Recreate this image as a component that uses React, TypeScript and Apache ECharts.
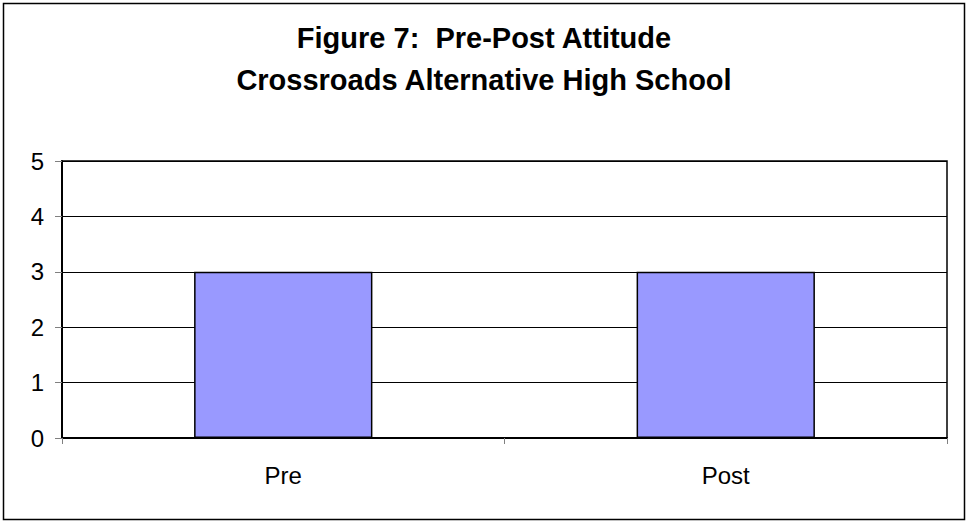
import React, { useEffect, useRef } from "react";
import * as echarts from "echarts";

const titleLines = ["Figure 7:  Pre-Post Attitude", "Crossroads Alternative High School"];
const categories = ["Pre", "Post"];
const values = [3, 3];
const yTicks = { min: 0, max: 5, interval: 1 };

export default function App() {
  const ref = useRef<HTMLDivElement>(null);
  useEffect(() => {
    if (!ref.current) return;
    const chart = echarts.init(ref.current, null, { renderer: "svg" });
    chart.setOption({
      animation: false,
      backgroundColor: "#ffffff",
      textStyle: { fontFamily: "Liberation Sans, Arial, sans-serif" },
      title: {
        text: titleLines.join("\n"),
        left: "center",
        top: 12,
        textStyle: {
          fontFamily: "Liberation Sans, Arial, sans-serif",
          fontSize: 29,
          fontWeight: "bold",
          color: "#000",
          lineHeight: 42,
        },
      },
      graphic: [
        {
          type: "rect",
          shape: { x: 3.5, y: 3.5, width: 961, height: 516 },
          style: { fill: "none", stroke: "#000", lineWidth: 1.5 },
          silent: true,
        },
      ],
      grid: {
        left: 62,
        top: 161,
        width: 885,
        height: 277,
        show: true,
        borderColor: "#000",
        borderWidth: 1.5,
        containLabel: false,
      },
      xAxis: {
        type: "category",
        data: categories,
        boundaryGap: true,
        axisLine: { show: true, lineStyle: { color: "#000", width: 2 } },
        axisTick: { show: true, length: 6, lineStyle: { color: "#808080", width: 1 } },
        axisLabel: { color: "#000", fontSize: 24, margin: 25 },
        splitLine: { show: false },
      },
      yAxis: {
        type: "value",
        min: yTicks.min,
        max: yTicks.max,
        interval: yTicks.interval,
        axisLine: { show: true, lineStyle: { color: "#000", width: 2 } },
        axisTick: { show: true, length: 7, lineStyle: { color: "#808080", width: 1 } },
        axisLabel: { color: "#000", fontSize: 24, margin: 18 },
        splitLine: { show: true, lineStyle: { color: "#000", width: 1 } },
      },
      series: [
        {
          type: "bar",
          data: values,
          barWidth: "40.3%",
          itemStyle: { color: "#9999FF", borderColor: "#000", borderWidth: 1.5 },
        },
      ],
    });
    return () => chart.dispose();
  }, []);
  return (
    <div
      ref={ref}
      style={{ position: "fixed", left: 0, top: 0, width: 968, height: 522 }}
    />
  );
}
